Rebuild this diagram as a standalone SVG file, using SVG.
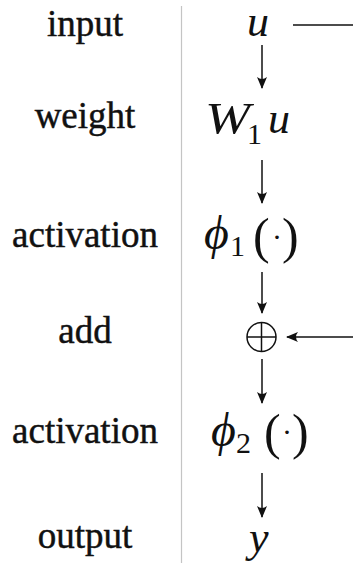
<svg xmlns="http://www.w3.org/2000/svg" width="353" height="563" viewBox="0 0 353 563">
<style>
.lbl{font-family:"Liberation Serif",serif;font-size:37px;fill:#111;stroke:#111;stroke-width:0.45;text-anchor:middle}
.m{font-family:"Liberation Serif","DejaVu Serif",serif;font-style:italic;font-size:44px;fill:#111}
.f{font-family:"Liberation Serif","DejaVu Serif",serif;font-style:italic;font-size:48px;fill:#111}
.r{font-family:"Liberation Serif","DejaVu Serif",serif;font-size:30px;fill:#111}
.p{font-family:"Liberation Serif",serif;font-size:50px;fill:#111}
.c{stroke:#111;stroke-width:1.5;fill:none}
</style>
<defs>
<marker id="ah" viewBox="0 0 12 10" refX="11" refY="5" markerWidth="12" markerHeight="10" markerUnits="userSpaceOnUse" orient="auto">
<path d="M0,0 L12,5 L0,10 Q4,5 0,0 Z" fill="#111"/>
</marker>
</defs>
<rect width="353" height="563" fill="#fff"/>
<line x1="181.5" y1="6" x2="181.5" y2="563" stroke="#c4c4c4" stroke-width="1.2"/>
<g id="labels">
<text class="lbl" x="85" y="36">input</text>
<text class="lbl" x="85" y="128">weight</text>
<text class="lbl" x="85" y="247">activation</text>
<text class="lbl" x="85" y="343">add</text>
<text class="lbl" x="85" y="443">activation</text>
<text class="lbl" x="85" y="548">output</text>
</g>
<g id="n-input"><text class="m" x="247" y="36" font-size="42">u</text></g>
<g id="n-weight"><text class="m" x="205" y="133" font-size="40" textLength="45" lengthAdjust="spacingAndGlyphs">W</text><text y="133"><tspan class="r" x="247" y="144">1</tspan><tspan class="m" x="268" y="133">u</tspan></text></g>
<g id="n-act1"><text y="250"><tspan class="f" x="204" y="249">ϕ</tspan><tspan class="r" x="230" y="256">1</tspan><tspan class="p" x="253" y="253">(</tspan><tspan class="r" x="272" y="247">·</tspan><tspan class="p" x="282" y="253">)</tspan></text></g>
<g id="n-add"><circle cx="261.5" cy="337" r="14.5" class="c"/><line x1="247" y1="337" x2="276" y2="337" class="c" stroke-width="1"/><line x1="261.5" y1="322.5" x2="261.5" y2="351.5" class="c" stroke-width="1"/></g>
<g id="n-act2"><text y="446"><tspan class="f" x="211" y="446">ϕ</tspan><tspan class="r" x="236" y="453">2</tspan><tspan class="p" x="264" y="449">(</tspan><tspan class="r" x="282" y="442">·</tspan><tspan class="p" x="292" y="449">)</tspan></text></g>
<g id="n-output"><text class="m" x="249" y="552">y</text></g>
<g id="connectors">
<line x1="293" y1="25" x2="353" y2="25" class="c"/>
<line x1="262" y1="45" x2="262" y2="88" class="c" marker-end="url(#ah)"/>
<line x1="262" y1="160" x2="262" y2="203" class="c" marker-end="url(#ah)"/>
<line x1="262" y1="272" x2="262" y2="313" class="c" marker-end="url(#ah)"/>
<line x1="353" y1="337" x2="287" y2="337" class="c" marker-end="url(#ah)"/>
<line x1="262" y1="359" x2="262" y2="403" class="c" marker-end="url(#ah)"/>
<line x1="262" y1="473" x2="262" y2="517" class="c" marker-end="url(#ah)"/>
</g>
</svg>
